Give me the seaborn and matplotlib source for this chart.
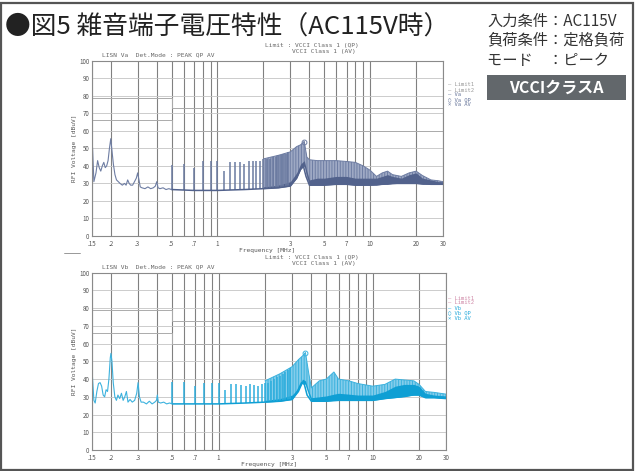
import matplotlib
matplotlib.use("Agg")
import matplotlib.pyplot as plt
import seaborn as sns
import numpy as np
import pandas as pd
from matplotlib.patches import Rectangle
from matplotlib.lines import Line2D

# === Données ===
tick_freqs = [0.15, 0.2, 0.3, 0.5, 0.7, 1, 3, 5, 7, 10, 20, 30]
tick_labels = ['.15', '.2', '.3', '.5', '.7', '1', '3', '5', '7', '10', '20', '30']
minor_freqs = [0.4, 0.6, 0.8, 0.9, 2, 4, 6, 8, 9]
y_ticks = [0, 10, 20, 30, 40, 50, 60, 70, 80, 90, 100]

limit_freq = [0.15, 0.5, 30]
limit_qp = [79, 73, 73]
limit_av = [66, 60, 60]

harm_freq = [0.5, 0.6, 0.7, 0.8, 0.9, 1.0, 1.1, 1.2, 1.3, 1.4, 1.5, 1.6, 1.7,
             1.8, 1.9, 2.0, 2.1, 2.2, 2.3, 2.4, 2.5, 2.6, 2.7, 2.8, 2.9]

# --- Va (haut) ---
va_low_freq = [0.150, 0.152, 0.155, 0.160, 0.164, 0.168, 0.172, 0.176, 0.180, 0.184,
               0.188, 0.192, 0.196, 0.200, 0.204, 0.208, 0.213, 0.218, 0.224, 0.230,
               0.238, 0.246, 0.252, 0.258, 0.264, 0.270, 0.278, 0.286, 0.294, 0.300,
               0.306, 0.312, 0.320, 0.335, 0.350, 0.365, 0.380, 0.392, 0.400, 0.408,
               0.420, 0.440, 0.460, 0.480, 0.500]
va_low_level = [55, 50, 31, 36, 43, 39, 37, 40, 42, 39,
                40, 43, 50, 55.5, 48, 41, 35, 32, 31, 30,
                29, 30, 29, 32, 30, 29, 29, 31, 33, 36,
                32, 28, 27.5, 27, 28, 27, 27.5, 28.5, 31, 27.5,
                27, 27.5, 26.5, 27, 26.5]
va_harm = [40.5, 41, 39, 43, 43, 43, 37, 42, 42, 42, 41, 43, 43,
           43, 43, 44, 44, 44, 45, 45, 46, 46, 47, 47, 48]
va_floor_freq = [0.5, 0.7, 1.0, 1.5, 2.0, 2.5, 3.0, 3.3, 3.5, 3.65, 3.8, 4.0, 5.0,
                 6.0, 7.0, 8.0, 10, 12, 15, 18, 20, 25, 30]
va_floor = [26.5, 26, 26, 26.5, 27, 27.5, 28.5, 33, 38, 40, 34, 29, 29,
            29.5, 29.5, 29, 29, 29.5, 30, 30, 30, 29.5, 29.5]
va_band_freq = [2.0, 2.5, 3.0, 3.3, 3.5, 3.7, 3.85, 4.0, 4.5, 5.0, 6.0, 7.0, 8.0,
                9.0, 10, 11, 12, 13, 14, 16, 18, 20, 22, 25, 28, 30]
va_band_low = [27, 27.5, 28.5, 33, 38, 40, 34, 29, 29, 29, 29.5, 29.5, 29,
               29, 29, 29, 29.5, 29.5, 30, 30, 30, 30, 29.5, 29.5, 29.5, 29.5]
va_band_dark = [28, 29, 31, 36, 41, 43, 37, 32, 33, 33, 34, 34, 33,
                33, 33, 33, 34, 35, 34, 33, 35, 36, 33, 32, 31, 31]
va_band_high = [44, 46, 48, 51, 52, 54, 45, 43.5, 43, 43, 43, 42.5, 42,
                40, 37.5, 34, 36, 37, 35, 34, 36, 37, 34.5, 32, 31.5, 31]
va_qp = (3.7, 53.5)

# --- Vb (bas) ---
vb_low_freq = [0.150, 0.152, 0.155, 0.158, 0.162, 0.166, 0.170, 0.174, 0.178, 0.182,
               0.186, 0.190, 0.194, 0.198, 0.200, 0.203, 0.207, 0.212, 0.217, 0.222,
               0.228, 0.234, 0.240, 0.246, 0.252, 0.258, 0.266, 0.275, 0.285, 0.294,
               0.300, 0.306, 0.314, 0.325, 0.340, 0.355, 0.370, 0.385, 0.395, 0.400,
               0.406, 0.420, 0.440, 0.460, 0.480, 0.500]
vb_low_level = [48, 40, 28, 26.5, 33, 37.5, 38, 36, 31, 30,
                34, 33, 40, 52, 54.5, 50, 38, 30, 28, 31,
                29, 32, 28, 30, 33, 27, 28.5, 27, 28, 32,
                38, 30, 27, 27, 26, 27.5, 26, 27, 28, 31,
                27, 26.5, 27, 26, 26.5, 26]
vb_harm = [38.5, 38.5, 36, 38, 38, 38, 34, 37.5, 37, 36.5, 36, 37, 36.5,
           36, 37, 38, 38, 39, 40, 41, 42, 43, 44, 45, 46]
vb_floor_freq = [0.5, 1.0, 1.5, 2.0, 2.5, 3.0, 3.2, 3.45, 3.6, 3.75, 4.0, 5.0,
                 6.0, 7.0, 10, 12, 15, 18, 20, 22, 25, 30]
vb_floor = [26, 26, 26.5, 27, 27.5, 28.5, 32, 38, 37, 31, 27.5, 27.5,
            28, 28, 28, 29, 30, 31, 31, 29.5, 29.5, 29]
vb_band_freq = [2.0, 2.5, 3.0, 3.3, 3.5, 3.66, 3.85, 4.0, 4.5, 5.0, 5.6, 6.0, 7.0,
                8.0, 10, 12, 14, 16, 18.5, 20, 22, 25, 30]
vb_band_low = [27, 27.5, 28.5, 33, 38, 37, 31, 27.5, 27.5, 27.5, 28, 28, 28,
               28, 28, 29, 29.5, 30, 31, 31, 29.5, 29.5, 29]
vb_band_dark = [28, 29, 31, 35, 40, 39, 33, 29.5, 30, 30.5, 31.5, 32, 31.5,
                31, 31, 33, 36, 37, 37, 36, 32, 31, 30.5]
vb_band_high = [39, 43, 47, 51, 53, 55, 43, 35, 39, 40, 44, 40, 39,
                37.5, 36, 37, 40, 39.5, 39, 37, 33, 32.5, 31.5]
vb_qp = (3.66, 54.5)

W, H = 635, 471


def fx(px):
    return px / W


def fy(py):
    return 1 - py / H


sns.set_style("white")
plt.rcParams['font.family'] = ['Noto Sans CJK JP', 'DejaVu Sans']
plt.rcParams['hatch.linewidth'] = 0.7

fig = plt.figure(figsize=(6.35, 4.71), dpi=100)
fig.patch.set_facecolor('white')


def draw_panel(ax, low_f, low_v, harm, floor_f, floor_v,
               band_f, band_low, band_dark, band_high, qp, light, dark, mid, line):
    ax.set_xscale('log')
    ax.set_xlim(0.15, 30)
    ax.set_ylim(0, 100)

    ax.set_xticks(tick_freqs)
    ax.set_xticklabels(tick_labels)
    ax.set_xticks(minor_freqs, minor=True)
    ax.xaxis.set_minor_formatter(matplotlib.ticker.NullFormatter())
    ax.set_yticks(y_ticks)
    ax.grid(which='both', axis='x', color='#808080', lw=0.8)
    ax.grid(which='major', axis='y', color='#c4c4c4', lw=0.6)
    ax.tick_params(which='both', length=0, labelsize=4.5, colors='#555555')
    ax.tick_params(axis='x', pad=3)
    ax.tick_params(axis='y', pad=1.5)
    for sp in ax.spines.values():
        sp.set_color('#8a8a8a')
        sp.set_linewidth(0.8)

    # limites VCCI
    ax.plot(limit_freq, limit_qp, drawstyle='steps-post', color='#ababab', lw=0.7)
    ax.plot(limit_freq, limit_av, drawstyle='steps-post', color='#ababab', lw=0.7)

    # zone dense
    ax.fill_between(band_f, band_low, band_high, facecolor=light, edgecolor=mid,
                    hatch='||||||', lw=0)
    ax.fill_between(band_f, band_low, band_dark, color=dark, lw=0)
    sns.lineplot(x=band_f, y=band_high, ax=ax, color=mid, lw=0.7)

    # harmoniques
    ax.vlines(harm_freq, np.interp(harm_freq, floor_f, floor_v), harm, color=line, lw=1.1)
    sns.lineplot(x=floor_f, y=floor_v, ax=ax, color=dark, lw=1.1)

    # basses fréquences
    sns.lineplot(x=low_f, y=low_v, ax=ax, color=mid, lw=0.8)

    ax.plot([qp[0]], [qp[1]], marker='o', ms=3.5, mfc='none', mec=mid, mew=0.7)

    ax.set_xlabel('Frequency [MHz]', fontsize=4.5, color='#555555', labelpad=0,
                  family='DejaVu Sans Mono')
    ax.set_ylabel('RFI Voltage [dBuV]', fontsize=4.5, color='#555555', labelpad=2,
                  family='DejaVu Sans Mono')


ax_top = fig.add_axes([fx(91.7), fy(236), fx(351.3), 175.3 / H])
draw_panel(ax_top, va_low_freq, va_low_level, va_harm, va_floor_freq, va_floor,
           va_band_freq, va_band_low, va_band_dark, va_band_high, va_qp,
           '#9ea9c4', '#52628c', '#6e7da3', '#6a7aa0')

ax_bot = fig.add_axes([fx(91.7), fy(450), fx(354.5), 177.3 / H])
draw_panel(ax_bot, vb_low_freq, vb_low_level, vb_harm, vb_floor_freq, vb_floor,
           vb_band_freq, vb_band_low, vb_band_dark, vb_band_high, vb_qp,
           '#84cdeb', '#0f9fd4', '#3cb2de', '#2eaedd')

# en-têtes des graphes
mono = 'DejaVu Sans Mono'
for top, name in [(0, 'Va'), (212, 'Vb')]:
    fig.text(fx(102), fy(55 + top), f'LISN {name}  Det.Mode : PEAK QP AV',
             fontsize=4.5, family=mono, color='#666666', va='center')
    fig.text(fx(265), fy(46 + top), 'Limit : VCCI Class 1 (QP)',
             fontsize=4.5, family=mono, color='#666666', va='center')
    fig.text(fx(292), fy(51.5 + top), 'VCCI Class 1 (AV)',
             fontsize=4.5, family=mono, color='#666666', va='center')

# légendes
leg_top = [('— Limit1', '#9a9a9a'), ('— Limit2', '#9a9a9a'), ('— Va', '#6a789c'),
           ('○ Va QP', '#6a789c'), ('× Va AV', '#6a789c')]
leg_bot = [('— Limit1', '#d08aa8'), ('— Limit2', '#d08aa8'), ('— Vb', '#2aaadb'),
           ('○ Vb QP', '#2aaadb'), ('× Vb AV', '#2aaadb')]
for i, (t, c) in enumerate(leg_top):
    fig.text(fx(448), fy(85 + i * 5), t, fontsize=4, family=mono, color=c, va='center')
for i, (t, c) in enumerate(leg_bot):
    fig.text(fx(448), fy(298 + i * 5), t, fontsize=4, family=mono, color=c, va='center')

fig.add_artist(Line2D([fx(64), fx(80)], [fy(253), fy(253)], color='#888888', lw=0.6))

# titre et conditions
fig.text(fx(5), fy(28), '●図5 雑音端子電圧特性（AC115V時）', fontsize=18.5,
         fontweight='normal', color='#222222', va='center')
fig.text(fx(487), fy(21), '入力条件：AC115V', fontsize=11, color='#333333', va='center')
fig.text(fx(487), fy(40), '負荷条件：定格負荷', fontsize=11, color='#333333', va='center')
fig.text(fx(487), fy(60), 'モード\u3000：ピーク', fontsize=11, color='#333333', va='center')

fig.add_artist(Rectangle((fx(487), fy(100)), fx(139), 25 / H, transform=fig.transFigure,
                         facecolor='#62676b', edgecolor='none'))
fig.text(fx(556), fy(88), 'VCCIクラスA', fontsize=11.5, fontweight='bold',
         color='white', ha='center', va='center')

fig.add_artist(Rectangle((0.002, 0.003), 0.995, 0.99, transform=fig.transFigure,
                         facecolor='none', edgecolor='#555555', lw=1.6))

fig.savefig('out.png', dpi=100)
